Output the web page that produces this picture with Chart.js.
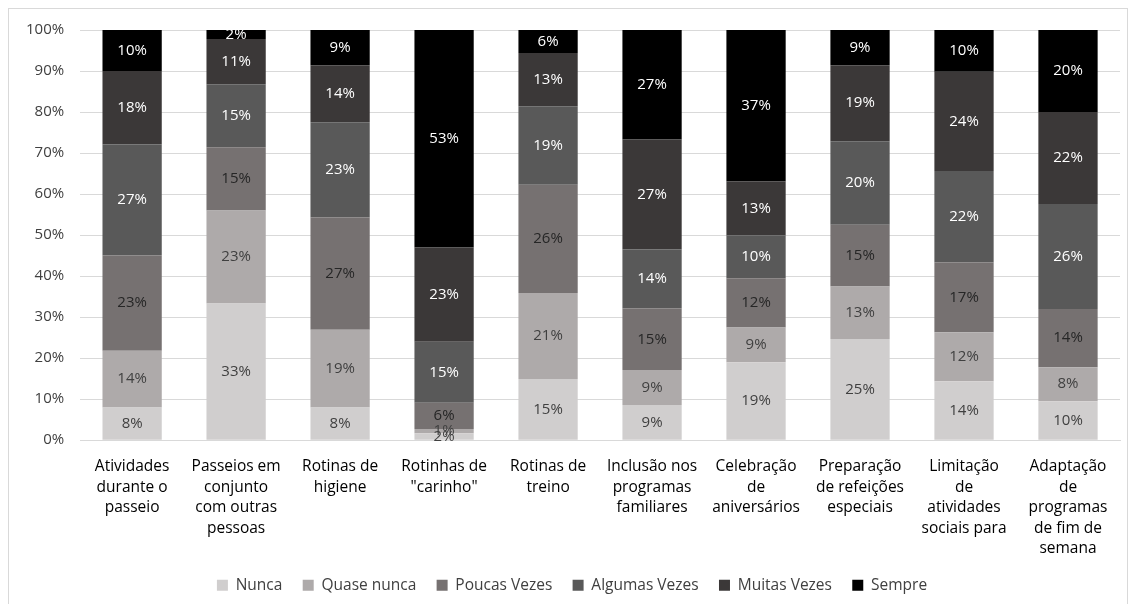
<!DOCTYPE html>
<html>
<head>
<meta charset="utf-8">
<script src="https://cdn.jsdelivr.net/npm/chart.js@4"></script>
<style>
  html, body { margin: 0; padding: 0; background: #fff; }
  #caixa { position: absolute; left: 8px; top: 8px; width: 1120px; height: 600px; border: 1px solid #d9d9d9; box-sizing: border-box; }
  #wrap { position: absolute; left: 0; top: 0; width: 1138px; height: 604px; }
</style>
</head>
<body>
<div id="caixa"></div>
<div id="wrap"><canvas id="grafico" width="1138" height="604"></canvas></div>
<script>
const categorias = [
  ["Atividades", "durante o", "passeio"],
  ["Passeios em", "conjunto", "com outras", "pessoas"],
  ["Rotinas de", "higiene"],
  ["Rotinhas de", "\"carinho\""],
  ["Rotinas de", "treino"],
  ["Inclusão nos", "programas", "familiares"],
  ["Celebração", "de", "aniversários"],
  ["Preparação", "de refeições", "especiais"],
  ["Limitação", "de", "atividades", "sociais para"],
  ["Adaptação", "de", "programas", "de fim de", "semana"]
];

const nunca        = [8.0, 33.3, 8.0, 1.7, 14.9, 8.6, 19.0, 24.7, 14.4, 9.5];
const quaseNunca   = [13.8, 22.7, 18.9, 1.0, 21.0, 8.5, 8.5, 12.8, 11.9, 8.3];
const poucasVezes  = [23.2, 15.4, 27.4, 6.4, 26.4, 15.0, 12.0, 15.0, 17.0, 14.2];
const algumasVezes = [27.1, 15.4, 23.2, 14.9, 19.1, 14.4, 10.4, 20.4, 22.3, 25.6];
const muitasVezes  = [17.9, 11.0, 13.9, 23.0, 13.0, 26.8, 13.2, 18.5, 24.2, 22.4];
const sempre       = [10.0, 2.2, 8.6, 53.0, 5.6, 26.7, 36.9, 8.6, 10.2, 20.0];

const series = [
  { nome: "Nunca", dados: nunca, cor: "#d0cece", texto: "#404040" },
  { nome: "Quase nunca", dados: quaseNunca, cor: "#aeaaaa", texto: "#404040" },
  { nome: "Poucas Vezes", dados: poucasVezes, cor: "#767171", texto: "#262626" },
  { nome: "Algumas Vezes", dados: algumasVezes, cor: "#595959", texto: "#ffffff" },
  { nome: "Muitas Vezes", dados: muitasVezes, cor: "#3b3838", texto: "#ffffff" },
  { nome: "Sempre", dados: sempre, cor: "#000000", texto: "#ffffff" }
];

const fonte = "'Open Sans', sans-serif";

// rótulos de porcentagem no meio de cada segmento
const rotulos = {
  id: "rotulos",
  afterDatasetsDraw(chart) {
    const ctx = chart.ctx;
    ctx.save();
    ctx.font = "15px " + fonte;
    ctx.textAlign = "center";
    ctx.textBaseline = "middle";
    chart.data.datasets.forEach((ds, i) => {
      const meta = chart.getDatasetMeta(i);
      meta.data.forEach((bar, j) => {
        const v = ds.data[j];
        const y = (bar.y + bar.base) / 2;
        ctx.fillStyle = series[i].texto;
        ctx.fillText(Math.round(v) + "%", bar.x, y);
      });
    });
    ctx.restore();
  }
};

const legendaPadrao = Chart.defaults.plugins.legend.labels.generateLabels;

new Chart(document.getElementById("grafico").getContext("2d"), {
  type: "bar",
  data: {
    labels: categorias,
    datasets: series.map(s => ({
      label: s.nome,
      data: s.dados,
      backgroundColor: s.cor,
      borderWidth: 0,
      barPercentage: 0.57,
      categoryPercentage: 1
    }))
  },
  options: {
    responsive: false,
    animation: false,
    layout: { padding: { left: 24, right: 18, top: 30, bottom: 1 } },
    plugins: {
      tooltip: { enabled: false },
      legend: {
        position: "bottom",
        labels: {
          boxWidth: 11,
          boxHeight: 11,
          padding: 10,
          color: "#404040",
          font: { family: fonte, size: 15.5 },
          // espaço extra entre os itens sem aumentar a altura da legenda
          generateLabels: chart => legendaPadrao(chart).map((item, i, arr) => {
            if (i < arr.length - 1) item.text = item.text + "\u2002\u2009";
            return item;
          })
        }
      }
    },
    scales: {
      x: {
        stacked: true,
        grid: { display: false },
        border: { color: "#d9d9d9" },
        ticks: {
          color: "#000000",
          maxRotation: 0,
          autoSkip: false,
          padding: 8.5,
          font: { family: fonte, size: 15.5, lineHeight: 1.32 }
        }
      },
      y: {
        stacked: true,
        min: 0,
        max: 100,
        grid: { color: "#d9d9d9", tickLength: 14, tickColor: "rgba(0,0,0,0)" },
        border: { display: false },
        ticks: {
          stepSize: 10,
          color: "#404040",
          padding: 2,
          font: { family: fonte, size: 15 },
          callback: v => v + "%"
        }
      }
    }
  },
  plugins: [rotulos]
});
</script>
</body>
</html>
